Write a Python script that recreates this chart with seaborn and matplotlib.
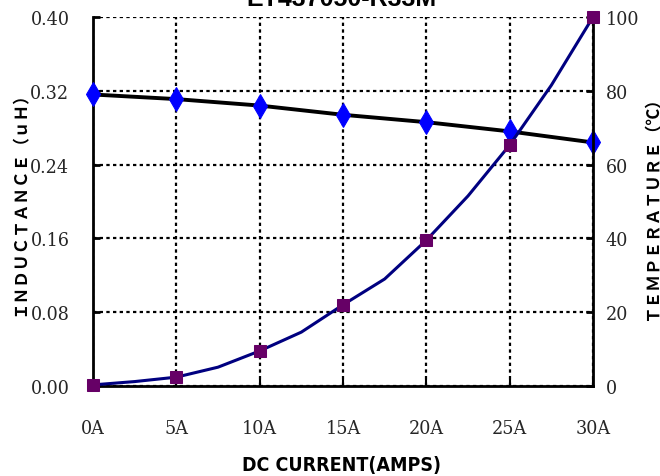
import matplotlib
matplotlib.use("Agg")
import matplotlib.pyplot as plt
import pandas as pd
import seaborn as sns

# Inductance readings at each DC current step
current_amps = [0, 5, 10, 15, 20, 25, 30]
inductance_uh = [0.316, 0.311, 0.304, 0.294, 0.286, 0.276, 0.264]

# Temperature-rise curve, read every 2.5 A (markers sit on the 5 A readings)
temp_current = [0, 2.5, 5, 7.5, 10, 12.5, 15, 17.5, 20, 22.5, 25, 27.5, 30]
temperature_c = [0.3, 1.2, 2.4, 5.1, 9.5, 14.6, 22.0, 29.0, 39.5, 51.5, 65.3, 81.5, 100.0]

x_tick_labels = ["0A", "5A", "10A", "15A", "20A", "25A", "30A"]
left_ticks = [0.00, 0.08, 0.16, 0.24, 0.32, 0.40]
right_ticks = [0, 20, 40, 60, 80, 100]

title_text = "ET437050-R33M"
x_label = "DC CURRENT(AMPS)"
left_label = "ＩＮＤＵＣＴＡＮＣＥ（ｕＨ）"
right_label = "ＴＥＭＰＥＲＡＴＵＲＥ（℃）"

sns.set_theme(style="white")
plt.rcParams["font.family"] = ["DejaVu Sans"]

W, H = 660, 477
fig = plt.figure(figsize=(W / 100, H / 100), dpi=100)
ax = fig.add_axes([93 / W, 1 - 387 / H, 500 / W, 369 / H])
ax2 = ax.twinx()

ind_df = pd.DataFrame({"current": current_amps, "inductance": inductance_uh})
tmp_df = pd.DataFrame({"current": temp_current, "temperature": temperature_c})

sns.lineplot(data=ind_df, x="current", y="inductance", ax=ax, color="black",
             lw=2.8, marker="d", markersize=12, markerfacecolor="#0000FF",
             markeredgecolor="#0000FF", zorder=3, clip_on=False)
sns.lineplot(data=tmp_df, x="current", y="temperature", ax=ax2, color="#000080",
             lw=2.2, marker="s", markersize=8, markerfacecolor="#660066",
             markeredgecolor="#660066", markevery=2, zorder=3, clip_on=False)

ax.set_xlim(0, 30)
ax.set_ylim(0, 0.40)
ax2.set_ylim(0, 100)

ax.set_xticks(current_amps)
ax.set_yticks(left_ticks)
ax2.set_yticks(right_ticks)

tick_font = dict(fontfamily="DejaVu Serif", fontstretch="condensed", fontsize=14, color="#262626")
ax.set_xticklabels(x_tick_labels, **tick_font)
ax.set_yticklabels([f"{v:.2f}" for v in left_ticks], **tick_font)
ax2.set_yticklabels([str(v) for v in right_ticks], **tick_font)

ax.grid(True, color="black", linestyle=(0, (1.5, 1.5)), linewidth=1.6)
ax.set_axisbelow(True)
ax2.grid(False)

for a in (ax, ax2):
    for s in a.spines.values():
        s.set_visible(False)
ax.spines["left"].set_visible(True)
ax.spines["bottom"].set_visible(True)
ax2.spines["right"].set_visible(True)
for s in (ax.spines["left"], ax.spines["bottom"], ax2.spines["right"]):
    s.set_color("black")
    s.set_linewidth(2)

ax.tick_params(axis="y", direction="in", length=5, width=2, color="black", pad=17, left=True)
ax.tick_params(axis="x", direction="in", length=5, width=1.5, color="black", pad=24, bottom=True)
ax2.tick_params(axis="y", direction="in", length=5, width=2, color="black", pad=9, right=True)

ax.set_xlabel(x_label, fontfamily="DejaVu Sans", fontstretch="condensed", fontsize=14,
              fontweight="bold", color="black")
ax.xaxis.set_label_coords((341 - 93) / 500, (387 - 465) / 369)
ax.set_ylabel(left_label, fontfamily=["Noto Sans CJK SC"], fontsize=12, fontweight="bold", color="black")
ax.yaxis.set_label_coords((20 - 93) / 500, (387 - 200) / 369)
ax2.set_ylabel(right_label, fontfamily=["Noto Sans CJK SC"], fontsize=12, fontweight="bold",
               color="black", rotation=90)
ax2.yaxis.set_label_coords((652 - 93) / 500, (387 - 205) / 369)
for lab in (ax.yaxis.label, ax2.yaxis.label, ax.xaxis.label):
    lab.set_va("center")
    lab.set_ha("center")

fig.text(341 / W, 1 - 6 / H, title_text, ha="center", va="baseline",
         fontfamily="Liberation Sans", fontweight="bold", fontsize=18, color="black")

fig.savefig("out.png", dpi=100)
